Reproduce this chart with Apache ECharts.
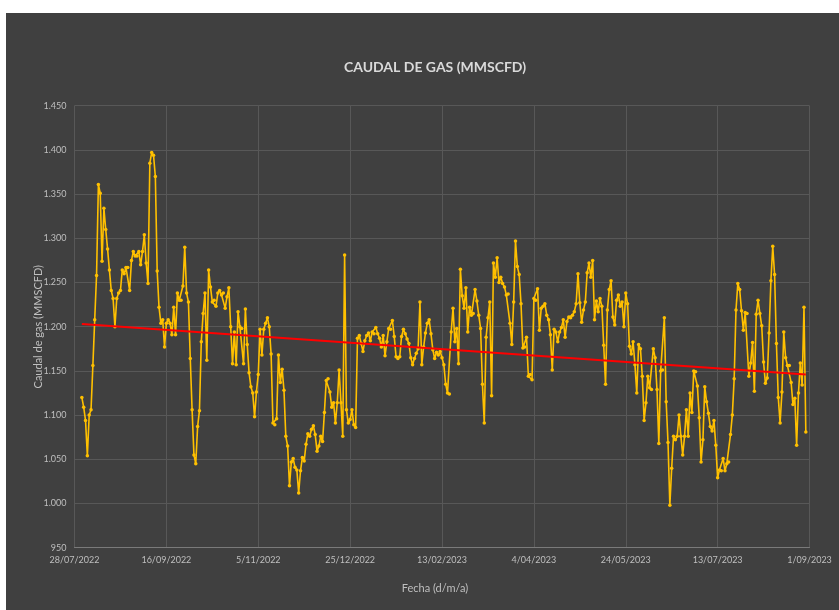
<!DOCTYPE html>
<html>
<head>
<meta charset="utf-8">
<script src="https://cdn.jsdelivr.net/npm/echarts@6/dist/echarts.min.js"></script>
<style>
  html, body { margin: 0; padding: 0; background: #ffffff; width: 839px; height: 610px; overflow: hidden; }
  #chart { position: absolute; left: 6px; top: 13px; width: 833px; height: 597px; background: #404040; }
</style>
</head>
<body>
<div id="chart"></div>
<script>
// Tick labels of the date axis (one every 50 days from the axis start)
const xTickLabels = ['28/07/2022', '16/09/2022', '5/11/2022', '25/12/2022', '13/02/2023',
                     '4/04/2023', '24/05/2023', '13/07/2023', '1/09/2023'];
const axisStartDate = '2022-07-28';
const firstReadingDate = '2022-08-01';

// Daily gas flow readings (MMSCFD), one per day from firstReadingDate
const gasFlow = [
  1120,1109,1094,1054,1100,1106,1156,1208,1258,1361,1351,1274,1334,1310,1288,1264,1241,1232,1200,1232,
  1238,1241,1264,1260,1267,1267,1241,1275,1285,1280,1280,1285,1270,1285,1304,1272,1249,1385,1397,1394,
  1370,1263,1222,1204,1208,1177,1204,1208,
  1204,1191,1222,1191,1238,1230,1230,1246,1290,1238,1228,1164,1106,1055,1045,1087,1105,1183,1215,1238,
  1162,1264,1245,1228,1230,1223,1238,1241,1236,1238,1221,1234,1244,1200,1158,1194,1157,1217,1200,1198,
  1158,1220,1180,1148,1132,1125,1098,1126,1146,1197,
  1168,1197,1204,1210,1200,1169,1091,1089,1096,1168,1137,1152,1128,1076,1065,1020,1047,1051,1041,1038,
  1012,1037,1052,1048,1067,1079,1076,1084,1088,1078,1059,1065,1076,1070,1103,1139,1141,1126,1109,1114,
  1091,1114,1151,1114,1076,1281,
  1106,1091,1095,1106,1089,1086,1187,1190,1181,1172,1184,1190,1193,1184,1194,1192,1199,1192,1187,1177,
  1190,1167,1183,1198,1197,1207,1189,1166,1164,1166,1189,1197,1192,1186,1181,1165,1157,1164,1170,1175,
  1228,1157,1177,1193,1204,1208,1192,1174,1164,1171,1168,1172,
  1165,1157,1135,1125,1124,1194,1221,1183,1198,1158,1265,1235,1221,1244,1194,1222,1213,1215,1242,1229,
  1213,1198,1135,1091,1188,1210,1228,1122,1272,1256,1278,1250,1256,1249,1245,1236,1237,1204,1180,1228,
  1297,1268,1259,1226,1176,1177,1188,1144,
  1146,1140,1232,1230,1243,1196,1221,1223,1226,1213,1208,1191,1151,1197,1194,1183,1194,1199,1208,1188,
  1206,1211,1210,1213,1217,1226,1260,1227,1205,1219,1228,1261,1272,1256,1275,1208,1229,1217,1232,1223,
  1179,1135,1219,1242,1252,1211,1202,1230,1236,1223,
  1228,1200,1238,1226,1178,1169,1183,1157,1125,1180,1175,1144,1094,1114,1144,1131,1129,1175,1165,1129,
  1068,1150,1151,1210,1115,1069,998,1040,1076,1072,1076,1100,1076,1055,1076,1106,1076,1125,1103,1150,
  1149,1133,1097,1047,1072,1132,1115,1102,1087,
  1082,1094,1066,1029,1038,1037,1051,1037,1045,1047,1078,1100,1141,1219,1249,1242,1218,1196,1216,1215,
  1144,1159,1182,1127,1214,1230,1215,1201,1160,1136,1142,1193,1252,1291,1259,1181,1120,1091,1126,1194,
  1165,1156,1156,1137,1112,1119,1066,1125,1159,1134,1222,1081
];

// Linear trend values at the first and last reading
const trendValues = [1203, 1146];

const DAY = 86400000;
const firstOffset = Math.round((Date.parse(firstReadingDate) - Date.parse(axisStartDate)) / DAY);
const lastOffset = firstOffset + gasFlow.length - 1;

const flowData = gasFlow.map((v, i) => [firstOffset + i, v]);
const trendData = [[firstOffset, trendValues[0]], [lastOffset, trendValues[1]]];

// Spanish thousands separator: 1450 -> "1.450"
function thousands(v) {
  if (v < 1000) return String(v);
  return Math.floor(v / 1000) + '.' + String(v % 1000).padStart(3, '0');
}

const FONT = 'Lato, "Open Sans", sans-serif';
const chart = echarts.init(document.getElementById('chart'), null, { renderer: 'canvas' });

chart.setOption({
  backgroundColor: '#404040',
  animation: false,
  grid: { left: 68.5, right: 29.5, top: 92.7, bottom: 62.3, containLabel: false },
  xAxis: {
    type: 'value',
    min: 0,
    max: 400,
    interval: 50,
    axisLine: { show: true, lineStyle: { color: '#7a7a7a', width: 1 } },
    axisTick: { show: false },
    axisLabel: {
      color: '#bfbfbf', fontFamily: FONT, fontSize: 9, margin: 8,
      formatter: v => xTickLabels[Math.round(v / 50)] || ''
    },
    splitLine: { show: true, lineStyle: { color: '#585858', width: 1 } }
  },
  yAxis: {
    type: 'value',
    min: 950,
    max: 1450,
    interval: 50,
    axisLine: { show: false },
    axisTick: { show: false },
    axisLabel: { color: '#bfbfbf', fontFamily: FONT, fontSize: 9, margin: 8, formatter: thousands },
    splitLine: { show: true, lineStyle: { color: '#585858', width: 1 } }
  },
  graphic: [
    {
      type: 'text', left: 'center', x: 429, y: 54,
      style: {
        text: 'CAUDAL DE GAS (MMSCFD)', fill: '#d9d9d9',
        font: 'bold 14px ' + FONT, align: 'center', verticalAlign: 'middle'
      },
      left: null
    },
    {
      type: 'text', x: 429, y: 575,
      style: {
        text: 'Fecha (d/m/a)', fill: '#bfbfbf',
        font: '11px ' + FONT, align: 'center', verticalAlign: 'middle'
      }
    },
    {
      type: 'text', x: 32, y: 313.7, rotation: Math.PI / 2,
      style: {
        text: 'Caudal de gas (MMSCFD)', fill: '#bfbfbf',
        font: '11px ' + FONT, align: 'center', verticalAlign: 'middle'
      }
    }
  ],
  series: [
    {
      name: 'Caudal de gas',
      type: 'line',
      data: flowData,
      showSymbol: true,
      symbol: 'circle',
      symbolSize: 3.5,
      itemStyle: { color: '#FFC000' },
      lineStyle: { color: '#FFC000', width: 1.6 },
      z: 2
    },
    {
      name: 'Tendencia',
      type: 'line',
      data: trendData,
      showSymbol: false,
      lineStyle: { color: '#FF0000', width: 2 },
      z: 3
    }
  ]
});
</script>
</body>
</html>
